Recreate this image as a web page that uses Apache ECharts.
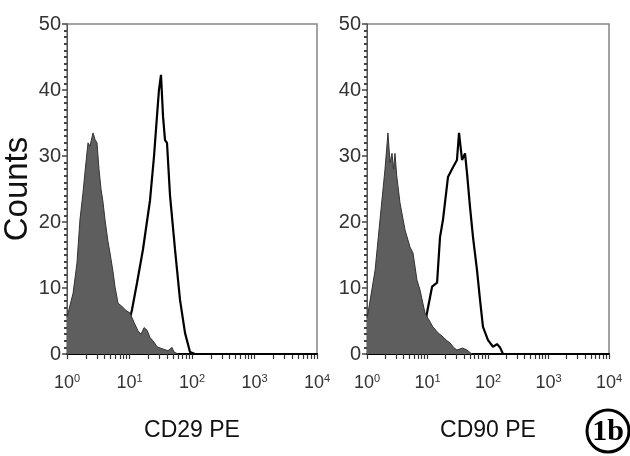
<!DOCTYPE html>
<html>
<head>
<meta charset="utf-8">
<script src="https://cdn.jsdelivr.net/npm/echarts@6/dist/echarts.min.js"></script>
<style>
html,body{margin:0;padding:0;background:#fff;}
#chart{width:630px;height:456px;}
</style>
</head>
<body>
<div id="chart"></div>
<script>
// ---- Data ----
var panelTitles = ['CD29 PE', 'CD90 PE'];
var yAxisName = 'Counts';
var yTicks = [0, 10, 20, 30, 40, 50];
var xTickValues = [1, 10, 100, 1000, 10000];
var xTickExp = ['0', '1', '2', '3', '4'];
var badgeText = '1b';

// CD29 panel: isotype control (filled)
var cd29CtrlX = [1.00, 1.04, 1.25, 1.445, 1.61, 1.80, 2.01, 2.17, 2.33, 2.61, 2.81, 3.02, 3.25, 3.50, 3.77, 4.06, 4.53, 4.88, 5.44, 5.86, 6.55, 7.59, 8.79, 10.2, 11.8, 13.7, 15.3, 17.1, 19.1, 21.3, 24.7, 27.5, 33.1, 41.3, 47.9, 51.5, 59.7];
var cd29CtrlY = [5.6, 6.2, 9.2, 13.8, 20.3, 24.4, 29.0, 32.0, 31.5, 33.5, 32.5, 32.0, 28.0, 25.0, 23.0, 20.3, 17.0, 15.3, 12.5, 10.2, 7.7, 7.2, 6.6, 6.2, 4.8, 3.5, 3.0, 4.0, 3.6, 2.5, 1.8, 1.1, 0.8, 0.5, 1.0, 0.3, 0];
// CD29 panel: stained (open)
var cd29StainX = [5.0, 7.05, 9.1, 10.96, 13.2, 16.4, 21.3, 24.7, 27.5, 29.6, 31.9, 34.4, 37.0, 39.8, 44.5, 53.5, 64.3, 77.3, 92.9, 111.7, 10000];
var cd29StainY = [0, 0.5, 3.5, 6.7, 10.8, 15.8, 23.3, 30.0, 36.0, 40.0, 42.3, 36.0, 32.4, 32.0, 24.0, 15.8, 8.2, 3.2, 0.3, 0, 0];

// CD90 panel: isotype control (filled)
var cd90CtrlX = [1.00, 1.04, 1.36, 1.64, 1.98, 2.22, 2.40, 2.59, 2.75, 2.90, 3.10, 3.51, 4.25, 5.14, 5.76, 6.70, 7.52, 9.09, 12.3, 15.0, 18.0, 21.0, 23.5, 27.0, 30.7, 38.0, 45.0, 54.0];
var cd90CtrlY = [5.5, 6.2, 12.7, 20.3, 27.9, 33.5, 29.0, 30.4, 28.0, 30.4, 27.0, 22.9, 18.8, 16.2, 15.3, 11.2, 9.7, 6.2, 4.1, 3.2, 2.6, 2.0, 1.7, 1.0, 0.6, 0.9, 0.6, 0];
// CD90 panel: stained (open)
var cd90StainX = [5.0, 7.5, 9.8, 11.9, 14.4, 16.1, 18.0, 21.8, 26.4, 30.7, 33.2, 37.2, 41.7, 45.0, 50.4, 56.5, 65.8, 73.8, 82.6, 100, 121, 141, 158, 177, 10000];
var cd90StainY = [0, 0.5, 6.2, 10.2, 10.8, 17.7, 20.3, 26.8, 28.3, 29.4, 33.5, 29.4, 30.4, 27.4, 22.3, 17.7, 12.7, 8.2, 4.1, 2.1, 1.1, 1.5, 1.0, 0, 0];

// ---- helpers ----
function pairs(xs, ys) { return xs.map(function (x, i) { return [x, ys[i]]; }); }
function log10(v) { return Math.log(v) / Math.LN10; }
// log-decade minor tick positions (1..9 x 10^d), expressed in decades for a helper linear axis
var minorTickDecades = [];
for (var d = 0; d < 4; d++) {
  for (var k = 1; k < 10; k++) minorTickDecades.push(d + log10(k));
}
minorTickDecades.push(4);

var SANS = '"Liberation Sans", Arial, Helvetica, sans-serif';

function xAxisFor(idx) {
  return {
    type: 'log', logBase: 10, gridIndex: idx, min: 1, max: 10000,
    axisLine: { show: true, lineStyle: { color: '#000', width: 2 } },
    axisTick: { show: false },
    axisLabel: {
      margin: 19,
      formatter: function (v) {
        var i = Math.round(log10(v));
        return '{b|10}{s|' + xTickExp[i] + '}';
      },
      rich: {
        b: { fontSize: 18, fontFamily: SANS, color: '#333', lineHeight: 21 },
        s: { fontSize: 11, fontFamily: SANS, color: '#333', lineHeight: 11, verticalAlign: 'top' }
      }
    },
    splitLine: { show: false },
    name: panelTitles[idx], nameLocation: 'middle', nameGap: 65,
    nameTextStyle: { fontSize: 23, fontFamily: SANS, color: '#111' }
  };
}
// helper linear axis (in decades) that only draws the log minor ticks
function xTickAxisFor(idx) {
  return {
    type: 'value', gridIndex: idx, min: 0, max: 4, position: 'bottom',
    axisLine: { show: false },
    axisTick: { show: true, length: 5, customValues: minorTickDecades, lineStyle: { color: '#333', width: 1.2 } },
    axisLabel: { show: false },
    splitLine: { show: false }
  };
}
function yAxisFor(idx) {
  var a = {
    type: 'value', gridIndex: idx, min: yTicks[0], max: yTicks[yTicks.length - 1], interval: 10,
    axisLine: { show: true, lineStyle: { color: '#555', width: 1 } },
    axisTick: { show: true, length: 5, lineStyle: { color: '#444', width: 1.5 } },
    minorTick: { show: true, splitNumber: 10, length: 3, lineStyle: { color: '#444', width: 2 } },
    axisLabel: { fontSize: 20, fontFamily: SANS, color: '#333', margin: 6 },
    splitLine: { show: false }
  };
  if (idx === 0) {
    a.name = yAxisName; a.nameLocation = 'middle'; a.nameGap = 31;
    a.nameTextStyle = { fontSize: 33, fontFamily: SANS, color: '#111' };
  }
  return a;
}
function stainSeries(idx, xs, ys) {
  return {
    type: 'line', xAxisIndex: idx, yAxisIndex: idx, data: pairs(xs, ys),
    showSymbol: false, symbol: 'none', smooth: false, z: 2,
    lineStyle: { color: '#000', width: 2.2 }
  };
}
function ctrlSeries(idx, xs, ys) {
  return {
    type: 'line', xAxisIndex: idx, yAxisIndex: idx, data: pairs(xs, ys),
    showSymbol: false, symbol: 'none', smooth: false, z: 3,
    lineStyle: { color: '#333', width: 1 },
    areaStyle: { color: '#5e5e5e', opacity: 1 }
  };
}

var chart = echarts.init(document.getElementById('chart'), null, { renderer: 'canvas' });
chart.setOption({
  backgroundColor: '#fff',
  animation: false,
  grid: [
    { left: 67, right: 313, top: 24, bottom: 102, show: true, borderColor: '#858585', borderWidth: 1.5, backgroundColor: 'transparent' },
    { left: 367, right: 21, top: 24, bottom: 102, show: true, borderColor: '#858585', borderWidth: 1.5, backgroundColor: 'transparent' }
  ],
  xAxis: [xAxisFor(0), xAxisFor(1), xTickAxisFor(0), xTickAxisFor(1)],
  yAxis: [yAxisFor(0), yAxisFor(1)],
  series: [
    stainSeries(0, cd29StainX, cd29StainY),
    ctrlSeries(0, cd29CtrlX, cd29CtrlY),
    stainSeries(1, cd90StainX, cd90StainY),
    ctrlSeries(1, cd90CtrlX, cd90CtrlY)
  ],
  graphic: [
    { type: 'circle', shape: { cx: 608, cy: 431, r: 21 }, style: { fill: '#fff', stroke: '#000', lineWidth: 3 }, z: 10 },
    { type: 'text', x: 608, y: 432, style: { text: badgeText, font: 'bold 30px "Liberation Serif", "DejaVu Serif", serif', fill: '#000', align: 'center', verticalAlign: 'middle' }, z: 11 }
  ]
});
</script>
</body>
</html>
